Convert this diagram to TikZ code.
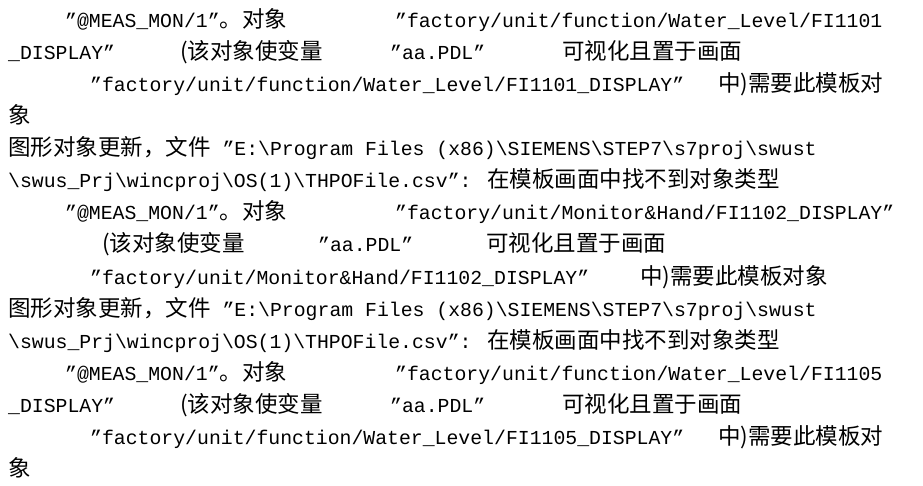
\documentclass[tikz,border=0pt]{standalone}
\usepackage{fontspec}
\setmainfont{Liberation Mono}
\newfontfamily\cjk{Noto Sans CJK SC}
\newcommand{\zh}[1]{{\cjk\fontsize{22.5}{24}\selectfont #1}}
\tikzset{txt/.style={anchor=base west,inner sep=0pt,font=\fontsize{19.8}{22}\selectfont}}
\newcommand{\bs}{\textbackslash}
\begin{document}
\begin{tikzpicture}[x=1pt,y=-1pt]
\useasboundingbox (0,0) rectangle (923,486);

% first entry
\node[txt] (a1) at (65,28) {"@MEAS\_MON/1"\zh{。对象}};
\node[txt] (a2) at (395,28) {"factory/unit/function/Water\_Level/FI1101};
\node[txt] (a3) at (8,60) {\_DISPLAY"};
\node[txt] (a4) at (180,60) {\zh{(该对象使变量}};
\node[txt] (a5) at (390,60) {"aa.PDL"};
\node[txt] (a6) at (562,60) {\zh{可视化且置于画面}};
\node[txt] (a7) at (90,92) {"factory/unit/function/Water\_Level/FI1101\_DISPLAY"};
\node[txt] (a8) at (718,92) {\zh{中)需要此模板对}};
\node[txt] (a9) at (8,124) {\zh{象}};

% second entry
\node[txt] (b1) at (8,156) {\zh{图形对象更新，文件} "E:\bs Program Files (x86)\bs SIEMENS\bs STEP7\bs s7proj\bs swust};
\node[txt] (b2) at (8,188) {\bs swus\_Prj\bs wincproj\bs OS(1)\bs THPOFile.csv": \zh{在模板画面中找不到对象类型}};
\node[txt] (b3) at (65,220) {"@MEAS\_MON/1"\zh{。对象}};
\node[txt] (b4) at (395,220) {"factory/unit/Monitor\&Hand/FI1102\_DISPLAY"};
\node[txt] (b5) at (102,252) {\zh{(该对象使变量}};
\node[txt] (b6) at (318,252) {"aa.PDL"};
\node[txt] (b7) at (486,252) {\zh{可视化且置于画面}};
\node[txt] (b8) at (90,284) {"factory/unit/Monitor\&Hand/FI1102\_DISPLAY"};
\node[txt] (b9) at (640,284) {\zh{中)需要此模板对象}};

% third entry
\node[txt] (c1) at (8,316) {\zh{图形对象更新，文件} "E:\bs Program Files (x86)\bs SIEMENS\bs STEP7\bs s7proj\bs swust};
\node[txt] (c2) at (8,348) {\bs swus\_Prj\bs wincproj\bs OS(1)\bs THPOFile.csv": \zh{在模板画面中找不到对象类型}};
\node[txt] (c3) at (65,380) {"@MEAS\_MON/1"\zh{。对象}};
\node[txt] (c4) at (395,380) {"factory/unit/function/Water\_Level/FI1105};
\node[txt] (c5) at (8,412) {\_DISPLAY"};
\node[txt] (c6) at (180,412) {\zh{(该对象使变量}};
\node[txt] (c7) at (390,412) {"aa.PDL"};
\node[txt] (c8) at (562,412) {\zh{可视化且置于画面}};
\node[txt] (c9) at (90,444) {"factory/unit/function/Water\_Level/FI1105\_DISPLAY"};
\node[txt] (c10) at (718,444) {\zh{中)需要此模板对}};
\node[txt] (c11) at (8,476) {\zh{象}};
\end{tikzpicture}
\end{document}
